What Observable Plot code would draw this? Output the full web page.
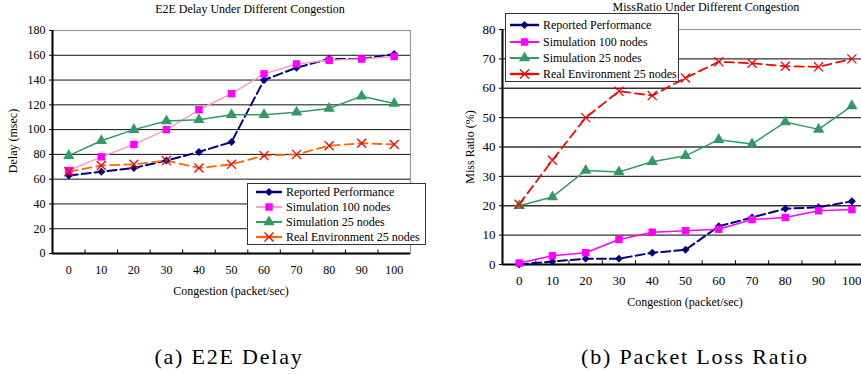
<!DOCTYPE html>
<html>
<head>
<meta charset="utf-8">
<script src="https://cdn.jsdelivr.net/npm/d3@7"></script>
<script src="https://cdn.jsdelivr.net/npm/@observablehq/plot@0.6"></script>
<style>
  html, body { margin: 0; padding: 0; background: #fff; overflow: hidden; }
  #wrap { position: relative; width: 861px; height: 374px; overflow: hidden; font-family: "Liberation Serif", "DejaVu Serif", serif; color: #000; }
  #wrap svg { max-width: none !important; font-family: "Liberation Serif", "DejaVu Serif", serif !important; }
  #wrap svg text { font-family: "Liberation Serif", "DejaVu Serif", serif !important; }
  .abs { position: absolute; }
  .title { position: absolute; font-size: 12px; white-space: nowrap; transform: translate(-50%, -50%); }
  .axlabel { position: absolute; font-size: 12px; white-space: nowrap; transform: translate(-50%, -50%); }
  .axlabel.rot { transform: translate(-50%, -50%) rotate(-90deg); }
  .caption { position: absolute; font-size: 22px; letter-spacing: 1.8px; white-space: nowrap; transform: translate(-50%, -50%); }
  .legend { position: absolute; background: #fff; border: 1.5px solid #333; box-sizing: border-box; font-size: 12px; }
  .legend .item { position: absolute; left: 0; height: 16px; display: flex; align-items: center; white-space: nowrap; transform: translateY(-50%); }
</style>
</head>
<body>
<div id="wrap"></div>
<script>
// ---------- data ----------
const categories = [0, 10, 20, 30, 40, 50, 60, 70, 80, 90, 100];
const seriesNames = ["Reported Performance", "Simulation 100 nodes", "Simulation 25 nodes", "Real Environment 25 nodes"];

// E2E delay (msec)
const delayReported = [63, 66, 69, 75, 82, 90, 140, 150, 157, 157, 161];
const delaySim100   = [67, 78, 88, 100, 116, 129, 145, 153, 156, 157, 159];
const delaySim25    = [79, 91, 100, 107, 108, 112, 112, 114, 117, 127, 121];
const delayReal     = [66, 71, 72, 75, 69, 72, 79, 80, 87, 89, 88];

// Miss ratio (%)
const missReported = [0, 1, 2, 2, 4, 5, 13, 16, 19, 19.5, 21.5];
const missSim100   = [0.5, 3, 4, 8.5, 11, 11.5, 12, 15.3, 16, 18.3, 18.7];
const missSim25    = [20, 23, 32, 31.5, 35, 37, 42.5, 41, 48.5, 46, 54];
const missReal     = [20.5, 35.5, 50, 59, 57.5, 63.5, 69, 68.5, 67.5, 67.3, 70];

const delayTicks = [0, 20, 40, 60, 80, 100, 120, 140, 160, 180];
const missTicks = [0, 10, 20, 30, 40, 50, 60, 70, 80];

// ---------- styles ----------
const leftStyles = [
  {line: "#000080", dot: "#000080", symbol: "diamond2", dash: "9,4", width: 2, filled: true, r: 3.6},
  {line: "#ff99cc", dot: "#ff00ff", symbol: "square", dash: null, width: 1.5, filled: true, r: 4.2},
  {line: "#339966", dot: "#339966", symbol: "triangle", dash: null, width: 1.5, filled: true, r: 4.2},
  {line: "#ff6600", dot: "#ff0000", symbol: "times", dash: "9,5", width: 1.8, filled: false, r: 4.2}
];
const rightStyles = [
  {line: "#000080", dot: "#000080", symbol: "diamond2", dash: "9,4", width: 2, filled: true, r: 3.6},
  {line: "#ff00ff", dot: "#ff00ff", symbol: "square", dash: null, width: 1.5, filled: true, r: 4.2},
  {line: "#339966", dot: "#339966", symbol: "triangle", dash: null, width: 1.5, filled: true, r: 4.2},
  {line: "#ff0000", dot: "#ff0000", symbol: "times", dash: "9,5", width: 1.8, filled: false, r: 4.2}
];

function rows(values) { return categories.map((c, i) => ({x: c, y: values[i]})); }

function makeChart(cfg) {
  const step = categories[1] - categories[0];
  const xDomain = [categories[0] - step / 2, categories[categories.length - 1] + step / 2];
  const boundaries = d3.range(categories[0] + step / 2, categories[categories.length - 1], step);
  const yMax = cfg.ticks[cfg.ticks.length - 1];
  const marks = [
    Plot.frame({stroke: "#999", strokeWidth: 1.2}),
    Plot.ruleY(cfg.ticks.filter(t => t > 0 && t < yMax), {stroke: cfg.gridColor, strokeWidth: cfg.gridWidth}),
    Plot.ruleX(boundaries, {y1: 0, y2: yMax * 0.016, stroke: "#000", strokeWidth: 1}),
    Plot.ruleX([xDomain[0]], {stroke: "#000", strokeWidth: 2}),
    Plot.ruleY([0], {stroke: "#000", strokeWidth: 2})
  ];
  cfg.series.forEach((vals, i) => {
    const s = cfg.styles[i];
    marks.push(Plot.line(rows(vals), {x: "x", y: "y", stroke: s.line, strokeWidth: s.width, strokeDasharray: s.dash || undefined}));
  });
  cfg.series.forEach((vals, i) => {
    const s = cfg.styles[i];
    const data = rows(vals);
    marks.push(Plot.dot(data, s.filled
      ? {x: "x", y: "y", symbol: () => s.symbol, fill: s.dot, r: s.r}
      : {x: "x", y: "y", symbol: () => s.symbol, stroke: s.dot, strokeWidth: 1.3, r: s.r}));
  });
  return Plot.plot({
    width: cfg.width,
    height: cfg.height,
    marginLeft: cfg.ml, marginRight: cfg.mr, marginTop: cfg.mt, marginBottom: cfg.mb,
    style: {fontFamily: "'Liberation Serif', serif", fontSize: cfg.fontSize + "px", background: "transparent", color: "#000", overflow: "visible", maxWidth: "none"},
    symbol: {type: "identity"},
    x: {type: "linear", domain: xDomain, ticks: categories, tickSize: 0, tickPadding: cfg.xPad, label: null, tickFormat: d => String(d)},
    y: {domain: [0, yMax], ticks: cfg.ticks, tickSize: 3, tickPadding: 4, label: null, tickFormat: d => String(d)},
    marks
  });
}

function legend(styles, box) {
  const div = document.createElement("div");
  div.className = "legend";
  Object.assign(div.style, {left: box.left + "px", top: box.top + "px", width: box.width + "px", height: box.height + "px"});
  seriesNames.forEach((name, i) => {
    const s = styles[i];
    const item = document.createElement("div");
    item.className = "item";
    item.style.top = box.rows[i] + "px";
    item.style.left = box.padLeft + "px";
    const w = box.lineW;
    const ns = "http://www.w3.org/2000/svg";
    const svg = document.createElementNS(ns, "svg");
    svg.setAttribute("width", w); svg.setAttribute("height", 12);
    svg.style.marginRight = box.gap + "px";
    const ln = document.createElementNS(ns, "line");
    ln.setAttribute("x1", 0); ln.setAttribute("x2", w); ln.setAttribute("y1", 6); ln.setAttribute("y2", 6);
    ln.setAttribute("stroke", s.line); ln.setAttribute("stroke-width", s.width + 0.5);
    svg.appendChild(ln);
    const symMap = {diamond2: d3.symbolDiamond2, square: d3.symbolSquare, triangle: d3.symbolTriangle, times: d3.symbolTimes};
    const p = document.createElementNS(ns, "path");
    p.setAttribute("d", d3.symbol(symMap[s.symbol], Math.PI * s.r * s.r)());
    p.setAttribute("transform", `translate(${w / 2},6)`);
    if (s.filled) p.setAttribute("fill", s.dot);
    else { p.setAttribute("fill", "none"); p.setAttribute("stroke", s.dot); p.setAttribute("stroke-width", 1.3); }
    svg.appendChild(p);
    item.appendChild(svg);
    const t = document.createElement("span");
    t.textContent = name;
    item.appendChild(t);
    div.appendChild(item);
  });
  return div;
}

const wrap = document.getElementById("wrap");

function place(node, left, top, width, height) {
  const d = document.createElement("div");
  d.className = "abs";
  d.style.left = left + "px"; d.style.top = top + "px";
  d.style.width = width + "px"; d.style.height = height + "px";
  d.appendChild(node);
  wrap.appendChild(d);
}

function text(cls, str, x, y) {
  const d = document.createElement("div");
  d.className = cls;
  d.textContent = str;
  d.style.left = x + "px"; d.style.top = y + "px";
  wrap.appendChild(d);
}

const left = makeChart({
  series: [delayReported, delaySim100, delaySim25, delayReal], styles: leftStyles,
  ticks: delayTicks, width: 430, height: 320, ml: 52, mr: 20, mt: 30, mb: 67,
  gridColor: "#111", gridWidth: 1, fontSize: 12, xPad: 12
});
place(left, 0, 0, 430, 320);

const right = makeChart({
  series: [missReported, missSim100, missSim25, missReal], styles: rightStyles,
  ticks: missTicks, width: 460, height: 320, ml: 72, mr: 22, mt: 29, mb: 56,
  gridColor: "#333", gridWidth: 1.4, fontSize: 13, xPad: 11
});
place(right, 430, 0, 460, 320);

text("title", "E2E Delay Under Different Congestion", 250, 9);
text("title", "MissRatio Under Different Congestion", 706, 7);
text("axlabel", "Congestion (packet/sec)", 231, 291);
text("axlabel", "Congestion (packet/sec)", 685, 302);
text("axlabel rot", "Delay (msec)", 13, 141);
text("axlabel rot", "Miss Ratio (%)", 470, 147);

wrap.appendChild(legend(leftStyles, {left: 247, top: 183, width: 179, height: 62, rows: [8, 23, 38, 53], padLeft: 8, lineW: 26, gap: 4}));
wrap.appendChild(legend(rightStyles, {left: 505, top: 13, width: 174, height: 69, rows: [11, 28, 44, 60], padLeft: 4, lineW: 29, gap: 4}));

text("caption", "(a) E2E Delay", 229, 357);
text("caption", "(b) Packet Loss Ratio", 695, 357);
</script>
</body>
</html>
